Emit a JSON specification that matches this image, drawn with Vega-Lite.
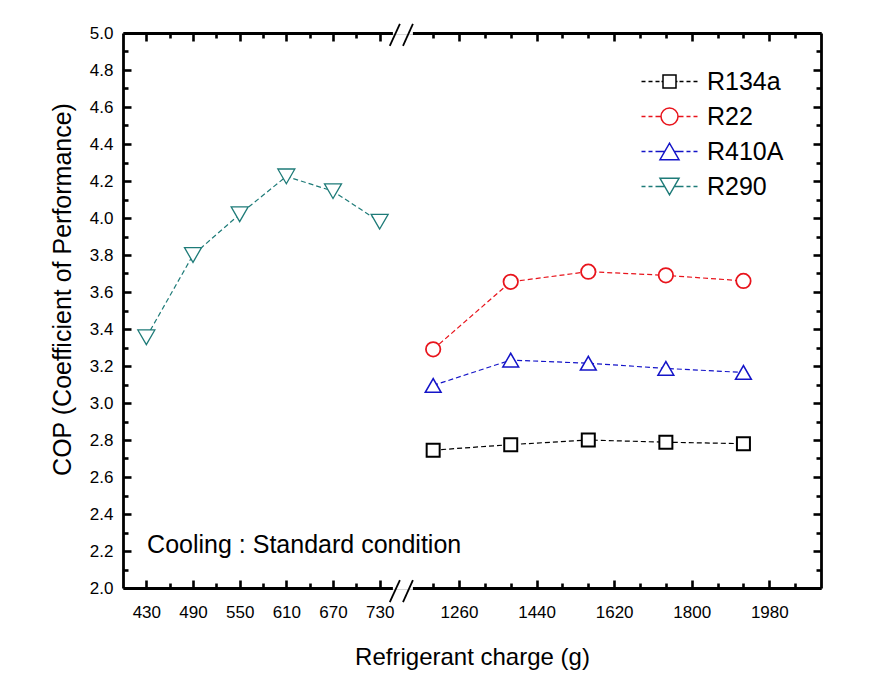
{
  "$schema": "https://vega.github.io/schema/vega-lite/v6.json",
  "width": 698,
  "height": 555,
  "autosize": {"type": "none"},
  "padding": {"left": 123, "top": 33, "right": 61, "bottom": 87},
  "background": "white",
  "config": {
    "view": {"stroke": null},
    "font": "Liberation Sans",
    "axis": {
      "grid": false,
      "tickColor": "#000000",
      "domainColor": "#000000",
      "labelColor": "#000000",
      "titleColor": "#000000",
      "labelFont": "Liberation Sans",
      "titleFont": "Liberation Sans",
      "titleFontWeight": "normal",
      "tickWidth": 2.6,
      "tickOpacity": 1,
      "domainWidth": 2.8,
      "labelFlush": false,
      "labelOverlap": false
    }
  },
  "data": {
    "values": [
      {"refrigerant": "R134a", "charge": 1200, "cop": 2.745},
      {"refrigerant": "R134a", "charge": 1380, "cop": 2.775},
      {"refrigerant": "R134a", "charge": 1560, "cop": 2.80},
      {"refrigerant": "R134a", "charge": 1740, "cop": 2.788},
      {"refrigerant": "R134a", "charge": 1920, "cop": 2.78},
      {"refrigerant": "R22", "charge": 1200, "cop": 3.29},
      {"refrigerant": "R22", "charge": 1380, "cop": 3.655},
      {"refrigerant": "R22", "charge": 1560, "cop": 3.71},
      {"refrigerant": "R22", "charge": 1740, "cop": 3.69},
      {"refrigerant": "R22", "charge": 1920, "cop": 3.66},
      {"refrigerant": "R410A", "charge": 1200, "cop": 3.095},
      {"refrigerant": "R410A", "charge": 1380, "cop": 3.232},
      {"refrigerant": "R410A", "charge": 1560, "cop": 3.215},
      {"refrigerant": "R410A", "charge": 1740, "cop": 3.187},
      {"refrigerant": "R410A", "charge": 1920, "cop": 3.165},
      {"refrigerant": "R290", "charge": 430, "cop": 3.355},
      {"refrigerant": "R290", "charge": 490, "cop": 3.80},
      {"refrigerant": "R290", "charge": 550, "cop": 4.02},
      {"refrigerant": "R290", "charge": 610, "cop": 4.225},
      {"refrigerant": "R290", "charge": 670, "cop": 4.145},
      {"refrigerant": "R290", "charge": 730, "cop": 3.98}
    ]
  },
  "layer": [
    {
      "mark": {"type": "line", "strokeDash": [5, 3], "strokeWidth": 1.2},
      "encoding": {
        "x": {
          "field": "charge", "type": "quantitative",
          "scale": {"domain": [400, 760, 1130, 2100], "range": [0, 280, 280, 698], "nice": false, "zero": false},
          "axis": {
            "orient": "bottom",
            "values": [430, 490, 550, 610, 670, 730, 1260, 1440, 1620, 1800, 1980],
            "format": "d",
            "ticks": false,
            "labelFontSize": 17,
            "labelPadding": 16,
            "title": "Refrigerant charge (g)",
            "titleFontSize": 24,
            "titleY": 69,
            "titleBaseline": "middle"
          }
        },
        "y": {
          "field": "cop", "type": "quantitative",
          "scale": {"domain": [2, 5], "nice": false, "zero": false},
          "axis": {
            "orient": "left",
            "values": [2.0, 2.2, 2.4, 2.6, 2.8, 3.0, 3.2, 3.4, 3.6, 3.8, 4.0, 4.2, 4.4, 4.6, 4.8, 5.0],
            "format": ".1f",
            "ticks": false,
            "labelFontSize": 17,
            "labelPadding": 10,
            "title": "COP (Coefficient of Performance)",
            "titleFontSize": 25,
            "titleX": -61,
            "titleY": 256,
            "titleBaseline": "middle"
          }
        },
        "color": {
          "field": "refrigerant", "type": "nominal",
          "scale": {"domain": ["R134a", "R22", "R410A", "R290"], "range": ["#000000", "#e8141c", "#1414c8", "#1e7b78"]},
          "legend": null
        }
      }
    },
    {
      "mark": {"type": "point", "filled": false, "fill": "white", "opacity": 1},
      "encoding": {
        "x": {
          "field": "charge", "type": "quantitative",
          "axis": {"orient": "top", "labels": false, "ticks": false, "domain": true, "title": null}
        },
        "y": {
          "field": "cop", "type": "quantitative",
          "axis": {"orient": "right", "labels": false, "ticks": false, "domain": true, "title": null}
        },
        "color": {
          "field": "refrigerant", "type": "nominal",
          "scale": {"domain": ["R134a", "R22", "R410A", "R290"], "range": ["#000000", "#e8141c", "#1414c8", "#1e7b78"]},
          "legend": null
        },
        "shape": {
          "field": "refrigerant", "type": "nominal",
          "scale": {"domain": ["R134a", "R22", "R410A", "R290"], "range": ["square", "circle", "triangle-up", "triangle-down"]},
          "legend": null
        },
        "size": {
          "field": "refrigerant", "type": "nominal",
          "scale": {"domain": ["R134a", "R22", "R410A", "R290"], "range": [169, 289, 361, 361]},
          "legend": null
        },
        "strokeWidth": {
          "field": "refrigerant", "type": "nominal",
          "scale": {"domain": ["R134a", "R22", "R410A", "R290"], "range": [2, 1.3, 1.5, 1.5]},
          "legend": null
        }
      }
    },
    {
      "mark": {"type": "point", "filled": false, "opacity": 0},
      "encoding": {
        "x": {
          "field": "charge", "type": "quantitative",
          "axis": {"orient": "bottom", "offset": -8, "values": [430, 490, 550, 610, 670, 730, 1260, 1440, 1620, 1800, 1980], "labels": false, "domain": false, "ticks": true, "tickSize": 8, "tickColor": "#000000", "title": null}
        },
        "y": {
          "field": "cop", "type": "quantitative",
          "axis": {"orient": "left", "offset": -8, "values": [2.0, 2.2, 2.4, 2.6, 2.8, 3.0, 3.2, 3.4, 3.6, 3.8, 4.0, 4.2, 4.4, 4.6, 4.8, 5.0], "labels": false, "domain": false, "ticks": true, "tickSize": 8, "tickColor": "#000000", "title": null}
        },
        "color": {
          "field": "refrigerant", "type": "nominal",
          "scale": {"domain": ["R134a", "R22", "R410A", "R290"], "range": ["#000000", "#e8141c", "#1414c8", "#1e7b78"]},
          "legend": {"orient": "none", "legendX": 534, "legendY": 36, "title": null, "padding": 0, "labelFontSize": 25, "labelFont": "Liberation Sans", "labelColor": "black", "symbolSize": 100, "symbolStrokeWidth": 1.5, "symbolOpacity": 1, "rowPadding": 9, "labelOffset": 25}
        },
        "shape": {
          "field": "refrigerant", "type": "nominal",
          "scale": {"domain": ["R134a", "R22", "R410A", "R290"], "range": [
            "M-5.6,0H-4.8M-4.2,0H-3.4M-2.8,0H-2M-1.6,0H-1.3M1.3,0H1.6M2,0H2.8M3.4,0H4.2M4.8,0H5.6M-1.3,-1.3H1.3V1.3H-1.3Z",
            "M-5.6,0H-4.8M-4.2,0H-3.4M-2.8,0H-1.7M1.7,0H2.8M3.4,0H4.2M4.8,0H5.6M-1.7,0A1.7,1.7,0,1,0,1.7,0A1.7,1.7,0,1,0,-1.7,0Z",
            "M-5.6,0H-4.8M-4.2,0H-3.4M-2.8,0H-1M1,0H2.8M3.4,0H4.2M4.8,0H5.6M-1.9,1.65L1.9,1.65L0,-1.65Z",
            "M-5.6,0H-4.8M-4.2,0H-3.4M-2.8,0H-1M1,0H2.8M3.4,0H4.2M4.8,0H5.6M-1.9,-1.65L1.9,-1.65L0,1.65Z"
          ]},
          "legend": {"orient": "none", "legendX": 534, "legendY": 36, "title": null, "padding": 0, "labelFontSize": 25, "labelFont": "Liberation Sans", "labelColor": "black", "symbolSize": 100, "symbolStrokeWidth": 1.5, "symbolOpacity": 1, "rowPadding": 9, "labelOffset": 25}
        }
      }
    },
    {
      "data": {"values": [{}]},
      "mark": {"type": "text", "text": "Cooling : Standard condition", "align": "left", "baseline": "middle", "fontSize": 25, "font": "Liberation Sans", "color": "black"},
      "encoding": {
        "x": {
          "datum": 431, "type": "quantitative",
          "axis": {"orient": "bottom", "offset": -5, "values": [460, 520, 580, 640, 700, 1200, 1320, 1380, 1500, 1560, 1680, 1740, 1860, 1920, 2040], "labels": false, "domain": false, "ticks": true, "tickSize": 5, "tickColor": "#000000", "title": null}
        },
        "y": {
          "datum": 2.232, "type": "quantitative",
          "axis": {"orient": "left", "offset": -5, "values": [2.1, 2.3, 2.5, 2.7, 2.9, 3.1, 3.3, 3.5, 3.7, 3.9, 4.1, 4.3, 4.5, 4.7, 4.9], "labels": false, "domain": false, "ticks": true, "tickSize": 5, "tickColor": "#000000", "title": null}
        }
      }
    },
    {
      "data": {"values": [{}]},
      "mark": {"type": "rect", "fill": "white"},
      "encoding": {
        "x": {"datum": 747, "type": "quantitative",
          "axis": {"orient": "top", "offset": -8, "values": [430, 490, 550, 610, 670, 730, 1260, 1440, 1620, 1800, 1980], "labels": false, "domain": false, "ticks": true, "tickSize": 8, "tickColor": "#000000", "title": null}},
        "x2": {"datum": 1153},
        "y": {"datum": 1.99, "type": "quantitative",
          "axis": {"orient": "right", "offset": -8, "values": [2.0, 2.2, 2.4, 2.6, 2.8, 3.0, 3.2, 3.4, 3.6, 3.8, 4.0, 4.2, 4.4, 4.6, 4.8, 5.0], "labels": false, "domain": false, "ticks": true, "tickSize": 8, "tickColor": "#000000", "title": null}},
        "y2": {"datum": 2.01}
      }
    },
    {
      "data": {"values": [{}]},
      "mark": {"type": "rect", "fill": "white"},
      "encoding": {
        "x": {"datum": 747, "type": "quantitative",
          "axis": {"orient": "top", "offset": -5, "values": [460, 520, 580, 640, 700, 1200, 1320, 1380, 1500, 1560, 1680, 1740, 1860, 1920, 2040], "labels": false, "domain": false, "ticks": true, "tickSize": 5, "tickColor": "#000000", "title": null}},
        "x2": {"datum": 1153},
        "y": {"datum": 4.99, "type": "quantitative",
          "axis": {"orient": "right", "offset": -5, "values": [2.1, 2.3, 2.5, 2.7, 2.9, 3.1, 3.3, 3.5, 3.7, 3.9, 4.1, 4.3, 4.5, 4.7, 4.9], "labels": false, "domain": false, "ticks": true, "tickSize": 5, "tickColor": "#000000", "title": null}},
        "y2": {"datum": 5.01}
      }
    },
    {
      "data": {"values": [{}]},
      "mark": {"type": "rule", "color": "black", "strokeWidth": 1.8},
      "encoding": {
        "x": {"datum": 743, "type": "quantitative", "axis": null},
        "x2": {"datum": 756},
        "y": {"datum": 1.924, "type": "quantitative", "axis": null},
        "y2": {"datum": 2.043}
      }
    },
    {
      "data": {"values": [{}]},
      "mark": {"type": "rule", "color": "black", "strokeWidth": 1.8},
      "encoding": {
        "x": {"datum": 1130, "type": "quantitative", "axis": null},
        "x2": {"datum": 1153},
        "y": {"datum": 1.924, "type": "quantitative", "axis": null},
        "y2": {"datum": 2.043}
      }
    },
    {
      "data": {"values": [{}]},
      "mark": {"type": "rule", "color": "black", "strokeWidth": 1.8},
      "encoding": {
        "x": {"datum": 743, "type": "quantitative", "axis": null},
        "x2": {"datum": 756},
        "y": {"datum": 4.93, "type": "quantitative", "axis": null},
        "y2": {"datum": 5.049}
      }
    },
    {
      "data": {"values": [{}]},
      "mark": {"type": "rule", "color": "black", "strokeWidth": 1.8},
      "encoding": {
        "x": {"datum": 1130, "type": "quantitative", "axis": null},
        "x2": {"datum": 1153},
        "y": {"datum": 4.93, "type": "quantitative", "axis": null},
        "y2": {"datum": 5.049}
      }
    }
  ],
  "resolve": {
    "scale": {"color": "independent", "shape": "independent"},
    "axis": {"x": "independent", "y": "independent"},
    "legend": {"color": "independent", "shape": "independent"}
  }
}
